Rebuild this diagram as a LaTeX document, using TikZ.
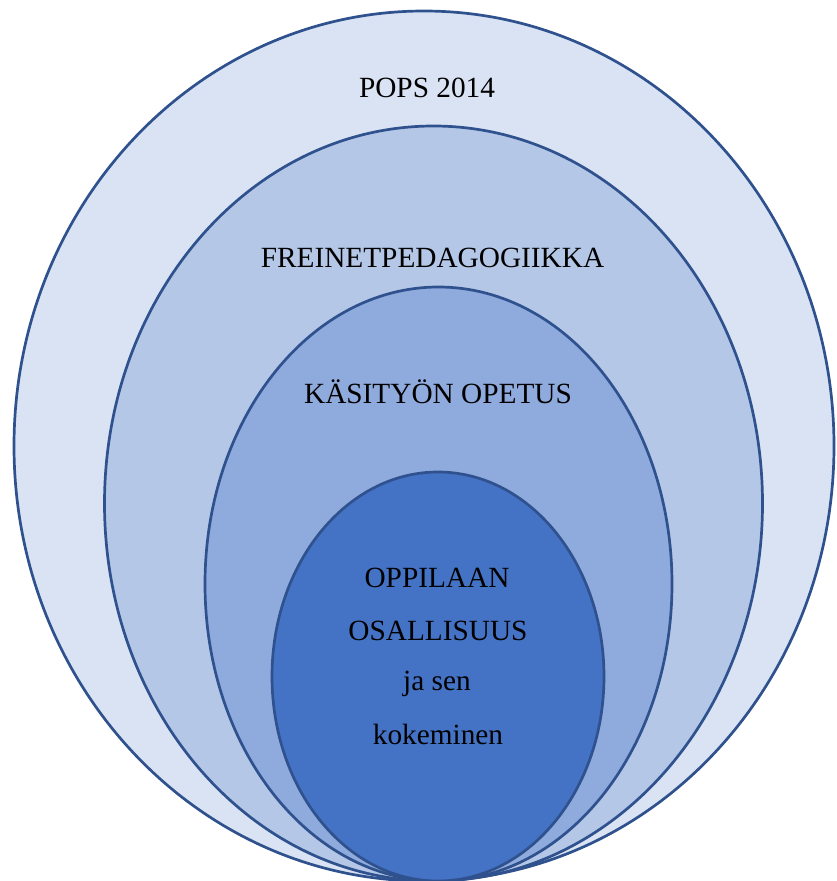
\documentclass[tikz,border=0pt]{standalone}
\usepackage{fontspec}
\setmainfont{Liberation Serif}
\usetikzlibrary{shapes.geometric}
\usetikzlibrary{positioning}
\definecolor{rim}{HTML}{2F528F}
\definecolor{popsfill}{HTML}{DAE3F3}
\definecolor{freinetfill}{HTML}{B4C7E7}
\definecolor{kasityofill}{HTML}{8FAADC}
\definecolor{oppilasfill}{HTML}{4472C4}
\tikzstyle{ring}=[ellipse, draw=rim, line width=2.7pt, inner sep=0pt]
\tikzstyle{caption}=[anchor=base, text=black, font=\fontsize{29.3}{35}\selectfont]

\begin{document}
\begin{tikzpicture}[x=1pt, y=-1pt]

    \clip (0,0) rectangle (836,881) ;
    \useasboundingbox (0,0) rectangle (836,881) ;

    % POPS
    \node[ring, fill=popsfill, minimum width=820pt, minimum height=870pt] (pops) at (424,446) {} ;
    \node[caption] (popsText) at (427,97) {POPS 2014} ;

    % FREINET
    \node[ring, fill=freinetfill, minimum width=658pt, minimum height=755pt] (freinet) at (433.5,503.5) {} ;
    \node[caption] (freinetText) at (432.5,267) {FREINETPEDAGOGIIKKA} ;

    % KASITYO
    \node[ring, fill=kasityofill, minimum width=467pt, minimum height=594pt] (kasityo) at (438.5,584) {} ;
    \node[caption] (kasityoText) at (438,403) {KÄSITYÖN OPETUS} ;

    % OPPILAS
    \node[ring, fill=oppilasfill, minimum width=332pt, minimum height=409pt] (oppilas) at (438,676.5) {} ;
    \node[caption] (line1) at (437,587) {OPPILAAN} ;
    \node[caption] (line2) at (438,640) {OSALLISUUS} ;
    \node[caption] (line3) at (437,690) {ja sen} ;
    \node[caption] (line4) at (438,744) {kokeminen} ;

\end{tikzpicture}
\end{document}
